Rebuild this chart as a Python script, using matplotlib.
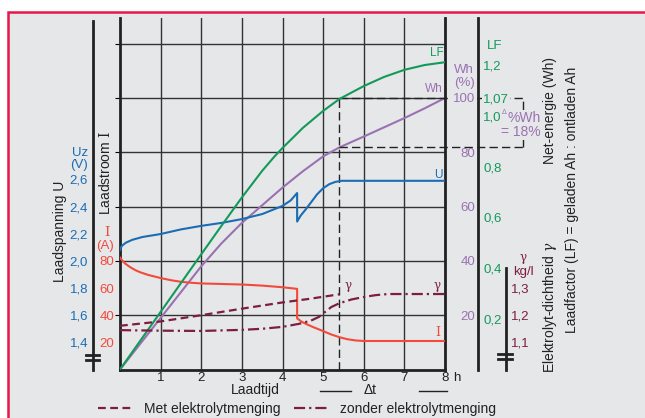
import matplotlib.pyplot as plt
from matplotlib.ticker import FuncFormatter
from matplotlib.lines import Line2D
from matplotlib.patches import Rectangle

plt.rcParams['font.family'] = ['Liberation Sans', 'DejaVu Sans']
plt.rcParams['mathtext.fontset'] = 'dejavuserif'

# --- data (laadtijd in h) ---
t_lf = [0, 1, 2, 2.5, 3, 3.5, 3.8, 4, 4.5, 5, 5.4, 6, 6.5, 7, 7.5, 8]
lf = [0, 0.227, 0.454, 0.567, 0.678, 0.783, 0.839, 0.873, 0.952, 1.019, 1.066, 1.117,
      1.153, 1.181, 1.2, 1.211]

t_wh = [0, 1, 1.5, 2, 2.5, 3, 3.5, 4, 4.5, 5, 5.4, 6, 6.5, 7, 7.5, 8]
wh = [0, 19, 28.5, 38, 46.5, 54, 60.5, 67, 73, 78.5, 81.8, 85.8, 89.2, 92.6, 96.2, 100]

t_u = [0, 0.02, 0.06, 0.15, 0.3, 0.55, 1, 1.5, 2, 2.5, 3, 3.5, 4, 4.2, 4.36, 4.36,
       4.45, 4.56, 4.7, 4.85, 5, 5.15, 5.3, 5.45, 8]
u = [2.08, 2.098, 2.115, 2.135, 2.155, 2.176, 2.198, 2.232, 2.258, 2.28, 2.308, 2.345,
     2.405, 2.445, 2.50, 2.29, 2.335, 2.375, 2.43, 2.49, 2.535, 2.565, 2.582, 2.59, 2.59]

t_i = [0, 0.05, 0.12, 0.25, 0.37, 0.5, 0.7, 1, 1.25, 1.5, 1.75, 2, 2.5, 3, 3.5, 4, 4.36,
       4.36, 4.47, 4.6, 4.75, 5, 5.2, 5.4, 5.6, 5.8, 6, 8]
i_a = [82.5, 80.5, 78.2, 75.4, 73.3, 71.6, 69.6, 67.4, 65.8, 64.6, 63.9, 63.4, 63.0, 62.6,
       61.8, 60.6, 59.4, 37.7, 35.2, 33.3, 31.3, 28.3, 25.8, 23.8, 22.3, 21.4, 21, 21]

t_g_met = [0, 1, 2, 3, 4, 4.65, 5.4]
g_met = [1.161, 1.177, 1.2, 1.224, 1.247, 1.26, 1.277]

t_g_zonder = [0, 1, 2, 3, 3.5, 4, 4.4, 4.7, 4.9, 5.05, 5.2, 5.4, 5.7, 6, 6.3, 6.6, 8]
g_zonder = [1.145, 1.143, 1.142, 1.146, 1.15, 1.157, 1.168, 1.18, 1.194, 1.212, 1.23,
            1.244, 1.258, 1.267, 1.274, 1.278, 1.278]

t_mark = 5.4
wh_full = 100
wh_mark = 82

x_ticks = [1, 2, 3, 4, 5, 6, 7, 8]
u_ticks = [1.4, 1.6, 1.8, 2.0, 2.2, 2.4, 2.6]
i_ticks = [20, 40, 60, 80]
wh_ticks = [20, 40, 60, 80, 100]
lf_ticks = [0.2, 0.4, 0.6, 0.8, 1.0, 1.07, 1.2]
g_ticks = [1.1, 1.2, 1.3]

BG = '#e6e7e9'
INK = '#222222'
BLUE = '#1a6db4'
GREEN = '#139a5a'
PURPLE = '#9a72b2'
RED = '#f24a3b'
DRED = '#7d1e3e'

W, H = 645, 418
X0, X1, YT, YB = 120, 445, 18.3, 369.5
UNIT = 54.3
n_units = (YB - YT) / UNIT

def fx(px):
    return px / W

def fy(py):
    return 1 - py / H

def ax_x(px):
    return (px - X0) / (X1 - X0)

fig = plt.figure(figsize=(6.45, 4.18), dpi=100, facecolor='white')
fig.add_artist(Rectangle((fx(8), -0.1), 1.2, fy(12) + 0.1, transform=fig.transFigure,
                         facecolor=BG, edgecolor='#e8174a', lw=1.8, zorder=-10))

ax = fig.add_axes([fx(X0), fy(YB), (X1 - X0) / W, (YB - YT) / H])
ax.set_facecolor('none')
ax.set_xlim(0, 8)
ax.set_ylim(0, 20 * n_units)
ax.set_xticks(x_ticks)
ax.set_yticks([20, 40, 60, 80, 100, 120])
ax.grid(True, color='#333333', lw=1.0)
ax.set_axisbelow(True)
ax.tick_params(axis='y', left=False, labelleft=False)
ax.tick_params(axis='x', length=0, pad=1.5, labelsize=9.5, labelcolor=INK)
ax.spines['top'].set_visible(False)
for s in ['left', 'right', 'bottom']:
    ax.spines[s].set_linewidth(2)
    ax.spines[s].set_color(INK)


def twin(lo, per_unit):
    a = ax.twinx()
    a.set_ylim(lo, lo + per_unit * n_units)
    for s in a.spines.values():
        s.set_visible(False)
    a.patch.set_visible(False)
    return a


def comma(v, p):
    s = f'{v:.2f}'
    if s.endswith('0'):
        s = s[:-1]
    return s.replace('.', ',')


ax_u = twin(1.2, 0.4)
ax_i = twin(0, 40)
ax_whl = twin(0, 20)
ax_lf = twin(0, 0.214)
ax_g = twin(1.0, 0.2)

# U scale, own line left of the plot
ax_u.spines['left'].set_visible(True)
ax_u.spines['left'].set_position(('axes', ax_x(93)))
ax_u.spines['left'].set_bounds(1.2, 1.2 + 0.4 * (YB - 21) / UNIT)
ax_u.spines['left'].set_linewidth(2)
ax_u.spines['left'].set_color(INK)
ax_u.yaxis.set_ticks_position('left')
ax_u.set_yticks(u_ticks)
ax_u.yaxis.set_major_formatter(FuncFormatter(comma))
ax_u.tick_params(axis='y', length=0, pad=3.6, labelsize=9.5, labelcolor=BLUE)

# I scale on the plot's left edge
ax_i.yaxis.set_ticks_position('left')
ax_i.set_yticks(i_ticks)
ax_i.tick_params(axis='y', length=0, pad=4.3, labelsize=9.5, labelcolor=RED)

# Wh scale, left side of the right line
ax_whl.spines['left'].set_visible(True)
ax_whl.spines['left'].set_position(('axes', ax_x(478)))
ax_whl.spines['left'].set_linewidth(2)
ax_whl.spines['left'].set_color(INK)
ax_whl.yaxis.set_ticks_position('left')
ax_whl.set_yticks(wh_ticks)
ax_whl.tick_params(axis='y', length=0, pad=2.2, labelsize=9.5, labelcolor=PURPLE)

# LF scale, right side of the same line
ax_lf.spines['right'].set_position(('axes', ax_x(478)))
ax_lf.yaxis.set_ticks_position('right')
ax_lf.set_yticks(lf_ticks)
ax_lf.yaxis.set_major_formatter(FuncFormatter(comma))
ax_lf.tick_params(axis='y', length=0, pad=3.6, labelsize=9.5, labelcolor=GREEN)

# gamma scale
ax_g.spines['right'].set_visible(True)
ax_g.spines['right'].set_position(('axes', ax_x(506)))
ax_g.spines['right'].set_bounds(1.0, 1.0 + 0.2 * (YB - 268) / UNIT)
ax_g.spines['right'].set_linewidth(2)
ax_g.spines['right'].set_color(INK)
ax_g.yaxis.set_ticks_position('right')
ax_g.set_yticks(g_ticks)
ax_g.yaxis.set_major_formatter(FuncFormatter(comma))
ax_g.tick_params(axis='y', length=0, pad=3.6, labelsize=9.5, labelcolor=DRED)

for lab in ax_whl.get_yticklabels() + ax_lf.get_yticklabels():
    if lab.get_text() in ('100', '1,07'):
        lab.set_bbox(dict(facecolor=BG, edgecolor='none', pad=0.6))

# curves
ax_lf.plot(t_lf, lf, color=GREEN, lw=1.5)
ax.plot(t_wh, wh, color=PURPLE, lw=1.5)
ax_u.plot(t_u, u, color=BLUE, lw=1.5)
ax_i.plot(t_i, i_a, color=RED, lw=1.5)
l_met, = ax_g.plot(t_g_met, g_met, color=DRED, lw=1.6, ls=(0, (3.5, 2)))
l_zonder, = ax_g.plot(t_g_zonder, g_zonder, color=DRED, lw=1.6, ls=(0, (5, 1.8, 1, 1.8)))

# end-of-charge markers
x_end = 8 * ax_x(523)
dash = dict(color=INK, lw=1.0, ls=(0, (6, 3)), clip_on=False)
ax.plot([t_mark, t_mark], [0, wh_full], **dash)
ax.plot([t_mark, x_end], [wh_full, wh_full], **dash)
ax.plot([t_mark, x_end], [wh_mark, wh_mark], **dash)
ax.plot([x_end, x_end], [wh_mark, wh_full], **dash)

# break marks on the two short scales
for x0, x1, ys in [(86, 99, (355, 360)), (498, 512, (354, 359))]:
    for yy in ys:
        fig.add_artist(Line2D([fx(x0), fx(x1)], [fy(yy), fy(yy)], color=INK, lw=2,
                              transform=fig.transFigure))

# delta t dimension lines
for x0, x1 in [(320, 351), (419, 447)]:
    fig.add_artist(Line2D([fx(x0), fx(x1)], [fy(391), fy(391)], color=INK, lw=1,
                          transform=fig.transFigure))


def ftext(px, py, s, **kw):
    kw.setdefault('ha', 'center')
    kw.setdefault('va', 'center')
    kw.setdefault('fontsize', 10)
    kw.setdefault('color', INK)
    return fig.text(fx(px), fy(py), s, **kw)


ftext(60, 231, 'Laadspanning U', rotation=90)
ftext(105, 173, r'Laadstroom $\mathrm{I}$', rotation=90)
ftext(88, 153, 'Uz', ha='right', color=BLUE, fontsize=9.5)
ftext(88, 165, '(V)', ha='right', color=BLUE, fontsize=9.5)
ftext(107, 233, 'I', color=RED, fontsize=9.5, family='DejaVu Serif')
ftext(114, 246, '(A)', ha='right', color=RED, fontsize=9.5)

ftext(464, 70, 'Wh', color=PURPLE, fontsize=9.5)
ftext(465, 83, '(%)', color=PURPLE, fontsize=9.5)
ftext(487, 46, 'LF', ha='left', color=GREEN, fontsize=9.5)
box = dict(facecolor=BG, edgecolor='none', pad=0.5)
ftext(541, 118, '%Wh', ha='right', color=PURPLE, fontsize=10, bbox=box)
ftext(541, 132, '= 18%', ha='right', color=PURPLE, fontsize=10, bbox=box)
ftext(504, 113, 'Δ', color=PURPLE, fontsize=5)
ftext(523, 257, 'γ', color=DRED, fontsize=8.5, family='DejaVu Serif')
ftext(523, 272, 'kg/l', color=DRED, fontsize=9.5)

ftext(550, 111, 'Net-energie (Wh)', rotation=90)
ftext(572, 200, 'Laadfactor (LF) = geladen Ah : ontladen Ah', rotation=90)
ftext(550, 307, r'Elektrolyt-dichtheid $\gamma$', rotation=90)

ftext(437, 53, 'LF', color=GREEN, fontsize=8.5)
ftext(434, 89, 'Wh', color=PURPLE, fontsize=8.5)
ftext(438, 175, 'U', color=BLUE, fontsize=8.5)
ftext(438, 332, 'I', color=RED, fontsize=9, family='DejaVu Serif')
ftext(437, 285, 'γ', color=DRED, fontsize=8.5, family='DejaVu Serif')
ftext(348, 285, 'γ', color=DRED, fontsize=8.5, family='DejaVu Serif')

ftext(457, 378, 'h', fontsize=9.5)
ftext(255, 390, 'Laadtijd')
ftext(370, 390, 'Δt')

fig.legend(handles=[l_met, l_zonder], labels=['Met elektrolytmenging', 'zonder elektrolytmenging'],
           ncol=2, loc='center left', bbox_to_anchor=(fx(98), fy(409)), frameon=False,
           fontsize=10, handlelength=2.5, handletextpad=0.8, columnspacing=1.0,
           borderpad=0, borderaxespad=0, labelcolor=INK)

fig.savefig('out.png', dpi=100, facecolor='white')
